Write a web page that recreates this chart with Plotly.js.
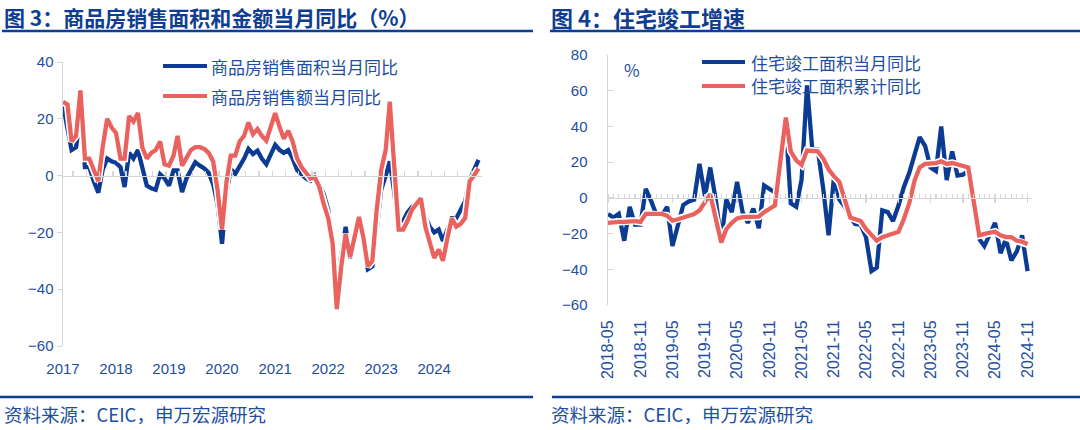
<!DOCTYPE html>
<html>
<head>
<meta charset="utf-8">
<script src="https://cdn.plot.ly/plotly-3.0.1.min.js"></script>
<style>html,body{margin:0;padding:0;background:#fff;}#chart{width:1080px;height:430px;}</style>
</head>
<body>
<div id="chart"></div>
<script>
// ---------- Data: Figure 3 (monthly, 2017-01 .. 2024-11) ----------
const salesStart = [2017, 1];
const salesAreaYoY = [
  25, 17, 9, 10, 21, 3, 3, -2, -6, 2, 6, 5,
  4.5, 3, -4, 8, 6, 9, 2, -3.5, -4.5, -5, 0.5, -1,
  -3.5, 1.8, 1.8, -5.8, -1, 2, 4.7, 3.5, 2.5, 1, -3, -10,
  -24, -6, 2.3, 0.6, 3, 6, 9.4, 7.6, 8.8, 6, 4, 7,
  10.8, 9, 8, 9, 6, 2, 0.5, -1, -1.8, 0, -3, -6.5,
  -12, -25, -39, -28, -18, -29, -22, -16, -24, -33, -32, -18,
  -5, 0, 5, -6, -18, -16, -13, -11, -10, -9, -14.5, -18,
  -20, -19, -23, -19, -15, -15, -12, -9, -1.5, 2, 5.5
];
const salesAmountYoY = [
  26, 25, 12, 14, 30, 6, 6, 2, -2, 10, 20, 17,
  15, 6, 6, 21, 19, 22, 10, 6, 8, 9, 12, 4,
  3.5, 7, 14, 3.5, 6, 9, 10, 10, 9.4, 8, 5, -5,
  -19, -2, 7, 7, 12, 14, 18.7, 14.6, 16.4, 14, 12.3, 17,
  22, 17, 13, 15.8, 12, 6, 3, 1, -1, -0.6, -4, -10,
  -15, -24, -47, -32, -20.5, -28.7, -21, -14.6, -22, -32, -30, -12,
  2, 9, 26, 4, -19, -19, -16, -12, -10, -8, -18, -24,
  -29, -26, -30, -22, -15, -18, -17, -15, -2, 0, 2.5
];

// ---------- Data: Figure 4 (monthly, 2018-05 .. 2024-11) ----------
const complStart = [2018, 5];
const complMonthlyYoY = [
  -9, -11, -9, -24, -5, -15, -15, 5,
  -2, -10, -10, -5, -27, -15, -4, -2, -1, 19, 1, 17,
  -1, -24, -1, -8, 9, -8, -14, -6, -17, 7, 5, 3,
  20, 41, -3, -5, 10, 63, 27, 27, 5, -21, 12, -1,
  -5, -11, -14.6, -15, -22, -41, -39, -7, -8, -13, -4.3, 6,
  14, 24, 34, 29, 17, 15, 40, 10, 26, 12.5, 13, 15,
  -5, -23, -27, -20, -14, -31, -23, -35, -30, -21, -41
];
const complCumYoY = [
  -14, -13.5, -13.5, -13.5, -13, -13, -13.5, -9,
  null, -9, -9, -10, -12.7, -12, -11, -10, -9, -7, -2, 2,
  null, -25, -17.5, -14, -11.5, -10.8, -10.8, -10.8, -10.5, -8, -6, -4.3,
  null, 45, 26, 21, 18.5, 26.5, 26.5, 26, 22, 16, 12, 9,
  null, -11, -12, -13, -17.4, -21, -24, -22, -21, -20, -19, -12,
  -3, 10, 17, 19, 19, 19.5, 20.5, 19, 19.5, 18.5, 18, 17,
  null, -21, -20, -19.5, -19, -21, -22, -22, -24, -24.5, -26
];

const salesNames = ['商品房销售面积当月同比', '商品房销售额当月同比'];
const complNames = ['住宅竣工面积当月同比', '住宅竣工面积累计同比'];
const titles = ['图 3：商品房销售面积和金额当月同比（%）', '图 4：住宅竣工增速'];
const sourceText = '资料来源：CEIC，申万宏源研究';

// month label helper (categories)
function monthDates(start, n) {
  const out = [];
  let y = start[0], m = start[1];
  for (let i = 0; i < n; i++) {
    out.push(y + '-' + String(m).padStart(2, '0') + '-01');
    m++; if (m > 12) { m = 1; y++; }
  }
  return out;
}
const salesDates = monthDates(salesStart, salesAreaYoY.length);
const complDates = monthDates(complStart, complMonthlyYoY.length);

// ---------- Styling ----------
const W = 1080, H = 430;
const fx = x => x / W;
const fy = y => 1 - y / H;
const BLUE = '#0c3b94';
const RED = '#e9625e';
const NAVY = '#0e3d91';
const TXT = '#1d4e9f';
const GRID = '#d6d6d6';
const numFont = {family: 'Liberation Sans, Arial, sans-serif', size: 15, color: TXT};
const cjk = 'Noto Sans CJK SC, sans-serif';

function series(x, y, color, xa, ya) {
  return [
    {x: x, y: y, xaxis: xa, yaxis: ya, mode: 'lines', connectgaps: true,
     line: {color: '#ffffff', width: 7.5, shape: 'linear'}, hoverinfo: 'skip', showlegend: false},
    {x: x, y: y, xaxis: xa, yaxis: ya, mode: 'lines', connectgaps: true,
     line: {color: color, width: 4.3, shape: 'linear'}, showlegend: false}
  ];
}

const traces = [].concat(
  series(salesDates, salesAreaYoY, BLUE, 'x', 'y'),
  series(salesDates, salesAmountYoY, RED, 'x', 'y'),
  series(complDates, complMonthlyYoY, BLUE, 'x3', 'y2'),
  series(complDates, complCumYoY, RED, 'x3', 'y2'),
  [{x: salesDates, y: salesDates.map(() => null), xaxis: 'x2', yaxis: 'y', mode: 'lines', showlegend: false, hoverinfo: 'skip'},
   {x: complDates, y: complDates.map(() => null), xaxis: 'x4', yaxis: 'y2', mode: 'lines', showlegend: false, hoverinfo: 'skip'}]
);

const leftDomX = [fx(63), fx(482)];
const leftDomY = [fy(346), fy(62)];
const leftRangeY = [-60, 40];
const rightDomX = [fx(608), fx(1032)];
const rightDomY = [fy(305), fy(55)];
const rightRangeY = [-60, 80];
const leftRangeX = ['2017-01-01', '2024-11-25'];
const rightRangeX = ['2018-05-01', '2024-11-26'];
const zeroPos = (dom, r) => dom[0] + (0 - r[0]) / (r[1] - r[0]) * (dom[1] - dom[0]);

function hline(x0, x1, y, color, w) {
  return {type: 'line', xref: 'paper', yref: 'paper', x0: fx(x0), x1: fx(x1), y0: fy(y), y1: fy(y),
          line: {color: color, width: w}};
}
function label(x, y, text, size, color, extra) {
  return Object.assign({xref: 'paper', yref: 'paper', x: fx(x), y: fy(y), xanchor: 'left', yanchor: 'middle',
          text: text, showarrow: false, font: {family: cjk, size: size, color: color}}, extra || {});
}

const layout = {
  width: W, height: H,
  margin: {l: 0, r: 0, t: 0, b: 0},
  paper_bgcolor: '#ffffff', plot_bgcolor: 'rgba(0,0,0,0)',
  showlegend: false,
  xaxis: {type: 'date', domain: leftDomX, range: leftRangeX, anchor: 'y',
          showline: false, showgrid: false, zeroline: false,
          ticks: 'outside', ticklen: 9, tickcolor: 'rgba(0,0,0,0)',
          dtick: 'M12', tick0: '2017-01-01', tickformat: '%Y', tickfont: numFont},
  xaxis2: {type: 'date', overlaying: 'x', anchor: 'free', position: zeroPos(leftDomY, leftRangeY),
           range: leftRangeX, showline: true, linecolor: GRID, linewidth: 1.5,
           ticks: 'inside', ticklen: 5, tickcolor: GRID, tickwidth: 1.2,
           dtick: 'M3', tick0: '2017-03-11', showticklabels: false, showgrid: false, zeroline: false},
  yaxis: {domain: leftDomY, range: leftRangeY, anchor: 'x', dtick: 20,
          showline: true, linecolor: GRID, linewidth: 1.5, ticks: 'outside', ticklen: 5, tickcolor: GRID,
          showgrid: false, zeroline: false, tickfont: numFont},
  xaxis3: {type: 'date', domain: rightDomX, range: rightRangeX, anchor: 'y2',
           showline: false, showgrid: false, zeroline: false,
           ticks: 'outside', ticklen: 8, tickcolor: 'rgba(0,0,0,0)',
           dtick: 'M6', tick0: '2018-05-01', tickformat: '%Y-%m', tickangle: -90,
           tickfont: {family: numFont.family, size: 16, color: TXT}},
  xaxis4: {type: 'date', overlaying: 'x3', anchor: 'free', position: zeroPos(rightDomY, rightRangeY),
           range: rightRangeX, showline: true, linecolor: GRID, linewidth: 1.5,
           ticks: 'outside', ticklen: 4, tickcolor: GRID, tickwidth: 1.2,
           dtick: 'M6', tick0: '2018-05-01', showticklabels: false, showgrid: false, zeroline: false,
           minor: {ticks: 'inside', ticklen: 4, dtick: 'M1', tick0: '2018-05-01', tickcolor: GRID, tickwidth: 1.2, showgrid: false}},
  yaxis2: {domain: rightDomY, range: rightRangeY, anchor: 'x3', dtick: 20,
           showline: true, linecolor: GRID, linewidth: 1.5, ticks: 'inside', ticklen: 5, tickcolor: GRID,
           ticklabelstandoff: 16, showgrid: false, zeroline: false, tickfont: numFont},
  shapes: [
    hline(2, 533, 31, NAVY, 2.5),
    hline(550, 1080, 31, NAVY, 2.5),
    hline(0, 533, 397, NAVY, 2.5),
    hline(552, 1080, 397, NAVY, 2.5),
    hline(163, 207, 66, BLUE, 4),
    hline(163, 207, 96, RED, 4),
    hline(702, 745, 62, BLUE, 4),
    hline(702, 745, 86, RED, 4)
  ],
  annotations: [
    label(2, 17, '<b>' + titles[0] + '</b>', 21, NAVY),
    label(549, 17, '<b>' + titles[1] + '</b>', 22, NAVY),
    label(2, 414, sourceText, 18.5, TXT),
    label(549, 414, sourceText, 18.5, TXT),
    label(209, 66, salesNames[0], 17, TXT),
    label(209, 96, salesNames[1], 17, TXT),
    label(749, 62, complNames[0], 17, TXT),
    label(749, 86, complNames[1], 17, TXT),
    label(622, 69, '%', 17, TXT)
  ]
};

Plotly.newPlot('chart', traces, layout, {staticPlot: true, displayModeBar: false});
</script>
</body>
</html>
